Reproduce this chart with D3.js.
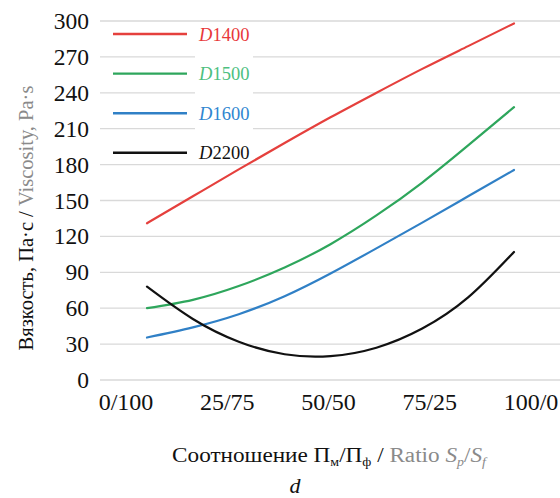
<!DOCTYPE html>
<html>
<head>
<meta charset="utf-8">
<script src="https://cdn.jsdelivr.net/npm/d3@7"></script>
<style>
  body { margin: 0; background: #fff; }
  svg { display: block; }
</style>
</head>
<body>
<svg id="chart" width="560" height="498"></svg>
<script>
// ratio Пм/Пф labels and the share of Пм (%) where values were read
var categories = ['0/100', '25/75', '50/50', '75/25', '100/0'];
var ratio = [0, 12.5, 25, 37.5, 50, 62.5, 75, 87.5, 100];
var seriesNames = ['1400', '1500', '1600', '2200'];
var d1400 = [131, 153.5, 176, 198, 219.5, 240, 260, 279, 298];
var d1500 = [60, 67, 78.5, 94, 113.5, 137.5, 165, 196, 228];
var d1600 = [35.5, 44, 55, 70, 89, 110, 131.5, 153.5, 175.5];
var d2200 = [78, 51, 32, 21.5, 20, 27, 43, 69, 107];
var yTicks = [0, 30, 60, 90, 120, 150, 180, 210, 240, 270, 300];

var lineColors = ['#e5403d', '#2ea65c', '#3080c6', '#111111'];
var textColors = ['#e8383a', '#4cc080', '#2f86d0', '#111111'];

var svg = d3.select('#chart')
  .attr('font-family', '"Liberation Serif", "Times New Roman", "DejaVu Serif", serif');

var y = d3.scaleLinear().domain([0, 300]).range([380, 21]);
var x = d3.scaleLinear().domain([0, 100]).range([147, 514]);
// category labels are spread a little wider than the data
var xLab = d3.scalePoint().domain(categories).range([126, 531]);

// gridlines
svg.append('g')
  .selectAll('line')
  .data(yTicks)
  .join('line')
  .attr('x1', 100).attr('x2', 560)
  .attr('y1', function (d) { return y(d); })
  .attr('y2', function (d) { return y(d); })
  .attr('stroke', '#d9d9d9')
  .attr('stroke-width', 1.3);

// y tick labels
svg.append('g')
  .selectAll('text')
  .data(yTicks)
  .join('text')
  .attr('x', 89)
  .attr('y', function (d) { return y(d) + 8; })
  .attr('text-anchor', 'end')
  .attr('font-size', 23.5)
  .attr('fill', '#111')
  .text(function (d) { return d; });

// x tick labels
svg.append('g')
  .selectAll('text')
  .data(categories)
  .join('text')
  .attr('x', function (d) { return xLab(d); })
  .attr('y', 410)
  .attr('text-anchor', 'middle')
  .attr('font-size', 24)
  .attr('fill', '#111')
  .text(function (d) { return d; });

// series
var allSeries = [d1400, d1500, d1600, d2200];
var line = d3.line()
  .x(function (d, i) { return x(ratio[i]); })
  .y(function (d) { return y(d); })
  .curve(d3.curveNatural);

svg.append('g')
  .selectAll('path')
  .data(allSeries)
  .join('path')
  .attr('d', line)
  .attr('fill', 'none')
  .attr('stroke', function (d, i) { return lineColors[i]; })
  .attr('stroke-width', 2.2)
  .attr('stroke-linecap', 'round');

// legend
svg.append('rect')
  .attr('x', 195).attr('y', 43)
  .attr('width', 58).attr('height', 94)
  .attr('fill', '#fff');

var legend = svg.append('g')
  .selectAll('g')
  .data(seriesNames)
  .join('g')
  .attr('transform', function (d, i) { return 'translate(0,' + (34 + i * 39.6) + ')'; });

legend.append('line')
  .attr('x1', 113).attr('x2', 187)
  .attr('stroke', function (d, i) { return lineColors[i]; })
  .attr('stroke-width', 2.4);

var lt = legend.append('text')
  .attr('x', 199)
  .attr('y', 6.5)
  .attr('font-size', 18.5)
  .attr('fill', function (d, i) { return textColors[i]; });
lt.append('tspan').attr('font-style', 'italic').text('D');
lt.append('tspan').text(function (d) { return d; });

// y axis title
var yt = svg.append('text')
  .attr('transform', 'translate(33,218) rotate(-90)')
  .attr('text-anchor', 'middle')
  .attr('font-size', 20.5)
  .attr('fill', '#111');
yt.append('tspan').text('Вязкость, Па·с / ');
yt.append('tspan').attr('fill', '#8a8a8a').text('Viscosity, Pa·s');

// x axis title
var xt = svg.append('text')
  .attr('transform', 'translate(329,462) scale(1.16,1)')
  .attr('text-anchor', 'middle')
  .attr('font-size', 20)
  .attr('fill', '#111');
xt.append('tspan').text('Соотношение П');
xt.append('tspan').attr('font-size', 12).attr('dy', 4).text('м');
xt.append('tspan').attr('dy', -4).text('/П');
xt.append('tspan').attr('font-size', 12).attr('dy', 4).text('ф');
xt.append('tspan').attr('dy', -4).text(' / ');
xt.append('tspan').attr('fill', '#8a8a8a').text('Ratio ');
xt.append('tspan').attr('fill', '#8a8a8a').attr('font-style', 'italic').text('S');
xt.append('tspan').attr('fill', '#8a8a8a').attr('font-style', 'italic').attr('font-size', 12).attr('dy', 4).text('p');
xt.append('tspan').attr('fill', '#8a8a8a').attr('dy', -4).text('/');
xt.append('tspan').attr('fill', '#8a8a8a').attr('font-style', 'italic').text('S');
xt.append('tspan').attr('fill', '#8a8a8a').attr('font-style', 'italic').attr('font-size', 12).attr('dy', 4).text('f');

// panel letter
svg.append('text')
  .attr('x', 295)
  .attr('y', 493)
  .attr('text-anchor', 'middle')
  .attr('font-size', 22)
  .attr('font-style', 'italic')
  .attr('fill', '#111')
  .text('d');
</script>
</body>
</html>
